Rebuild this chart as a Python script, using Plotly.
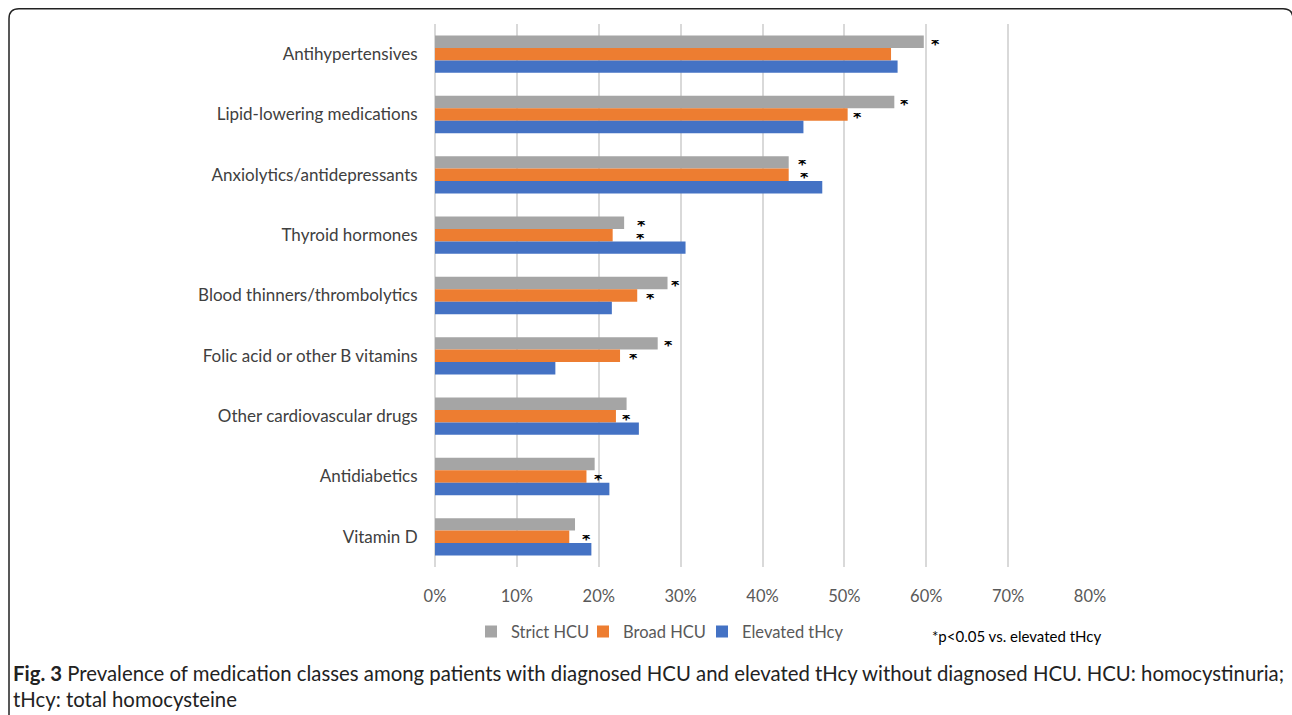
import plotly.graph_objects as go

categories = ["Antihypertensives", "Lipid-lowering medications", "Anxiolytics/antidepressants",
              "Thyroid hormones", "Blood thinners/thrombolytics", "Folic acid or other B vitamins",
              "Other cardiovascular drugs", "Antidiabetics", "Vitamin D"]
strict_hcu = [59.7, 56.1, 43.2, 23.1, 28.4, 27.2, 23.4, 19.5, 17.1]
broad_hcu = [55.7, 50.4, 43.2, 21.7, 24.7, 22.6, 22.1, 18.5, 16.4]
elevated_thcy = [56.5, 45.0, 47.3, 30.6, 21.6, 14.7, 24.9, 21.3, 19.1]
sig_strict = [True, True, True, True, True, True, False, False, False]
sig_broad = [False, True, True, True, True, True, True, True, True]
x_ticks = [0, 10, 20, 30, 40, 50, 60, 70, 80]
x_tick_labels = ["0%", "10%", "20%", "30%", "40%", "50%", "60%", "70%", "80%"]

# style: star horizontal offsets in px from bar end
star_shift_strict = [12, 10, 14, 17, 8, 11, 0, 0, 0]
star_shift_broad = [0, 10, 16, 28, 13, 13, 11, 12, 17]
legend_widths = [67, 74, 110]

W, H = 1292, 715
L, R, T, B = 435, 1090, 23.8, 567.2

def px(x, y):
    return (x - L) / (R - L), (B - y) / (B - T)

fig = go.Figure()
series = [("Strict HCU", strict_hcu, "#a5a5a5"),
          ("Broad HCU", broad_hcu, "#ed7d31"),
          ("Elevated tHcy", elevated_thcy, "#4472c4")]
for (name, vals, col), lw in zip(series, legend_widths):
    fig.add_trace(go.Bar(y=categories, x=vals, name=name, orientation="h", legendwidth=lw,
                         marker=dict(color=col, line=dict(width=0))))

annotations = []
bar_px = 12.4
star_font = dict(size=16, color="#000000", family="DejaVu Sans")
for i, c in enumerate(categories):
    if sig_strict[i]:
        annotations.append(dict(x=strict_hcu[i], y=c, xref="x", yref="y", text="<b>*</b>", showarrow=False,
                                xanchor="center", yanchor="middle", xshift=star_shift_strict[i],
                                yshift=bar_px - 2.5, height=9, borderpad=0, font=star_font))
    if sig_broad[i]:
        annotations.append(dict(x=broad_hcu[i], y=c, xref="x", yref="y", text="<b>*</b>", showarrow=False,
                                xanchor="center", yanchor="middle", xshift=star_shift_broad[i],
                                yshift=-3, height=9, borderpad=0, font=star_font))

fx, fy = px(930, 636)
annotations.append(dict(x=fx, y=fy, xref="paper", yref="paper", text="*p<0.05 vs. elevated tHcy",
                        showarrow=False, xanchor="left", yanchor="middle",
                        font=dict(size=15, color="#000000", family="Lato")))
cx, cy = px(11, 659)
annotations.append(dict(x=cx, y=cy, xref="paper", yref="paper",
                        text="<b>Fig. 3</b> Prevalence of medication classes among patients with diagnosed HCU and elevated tHcy without diagnosed HCU. HCU: homocystinuria;<br>tHcy: total homocysteine",
                        showarrow=False, xanchor="left", yanchor="top", align="left",
                        font=dict(size=20.35, color="#222222", family="Lato")))

# rounded border
x0, y0 = px(9, 8.5)
x1, _ = px(1293, 8.5)
_, yb = px(9, 740)
rx = 10 / (R - L)
ry = 10 / (B - T)
path = (f"M {x0},{yb} L {x0},{y0 - ry} Q {x0},{y0} {x0 + rx},{y0} "
        f"L {x1 - rx},{y0} Q {x1},{y0} {x1},{y0 - ry} L {x1},{yb}")

lx, ly = px(471, 632)
fig.update_layout(
    width=W, height=H,
    margin=dict(l=L, r=W - R, t=T, b=H - B, pad=0),
    paper_bgcolor="white", plot_bgcolor="white",
    barmode="group", bargap=0.38, bargroupgap=0,
    font=dict(family="Lato", color="#404040"),
    xaxis=dict(range=[0, 80], tickvals=x_ticks, ticktext=x_tick_labels, showgrid=True,
               gridcolor="#d9d9d9", gridwidth=1.5, zeroline=True, zerolinecolor="#d9d9d9",
               zerolinewidth=1.5, ticks="outside", ticklen=14, tickcolor="rgba(0,0,0,0)",
               tickfont=dict(size=16.5, color="#595959", family="Lato"), fixedrange=True),
    yaxis=dict(autorange="reversed", ticks="outside", ticklen=13, tickcolor="rgba(0,0,0,0)",
               tickfont=dict(size=17, color="#404040", family="Lato"), showgrid=False),
    legend=dict(orientation="h", x=lx, y=ly, xanchor="left", yanchor="middle",
                font=dict(size=16.5, color="#595959", family="Lato"), traceorder="normal",
                itemwidth=30, bgcolor="rgba(0,0,0,0)"),
    annotations=annotations,
    shapes=[dict(type="path", path=path, xref="paper", yref="paper",
                 line=dict(color="#222222", width=1.5))],
)
fig.write_html("out.html")
